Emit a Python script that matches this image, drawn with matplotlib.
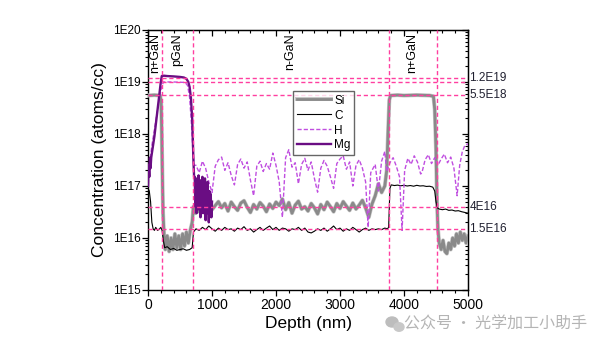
import matplotlib
matplotlib.use("Agg")
import math
import matplotlib.pyplot as plt
from matplotlib.ticker import FixedLocator, FuncFormatter, LogLocator, MultipleLocator, NullFormatter
from matplotlib.patches import Ellipse
import matplotlib.patheffects as pe

plt.rcParams['font.family'] = ['Liberation Sans', 'DejaVu Sans']

# SIMS depth profiles (depth in nm, concentration in atoms/cc)
si_depth = [0, 100, 190, 205, 215, 225, 235, 250,
            270, 300, 330, 360, 390, 420, 450, 480, 510, 540, 570, 600, 630, 660, 690, 710, 740, 770,
            800, 850, 900, 950, 1000, 1050, 1100, 1150, 1200, 1250, 1300, 1350, 1400, 1450, 1500,
            1550, 1600, 1650, 1700, 1750, 1800, 1850, 1900, 1950, 2000, 2050, 2100, 2150, 2200,
            2250, 2300, 2350, 2400, 2450, 2500, 2550, 2600, 2650, 2700, 2750, 2800, 2850, 2900,
            2950, 3000, 3050, 3100, 3150, 3200, 3250, 3300, 3350, 3400, 3450, 3500, 3550, 3600,
            3650, 3700, 3730, 3750, 3770, 3790, 3900, 4000, 4200, 4400, 4460, 4480, 4500, 4515,
            4530, 4550, 4580, 4610, 4640, 4670, 4700, 4730, 4760, 4790, 4820, 4850, 4880, 4910,
            4940, 4970, 5000]
si_conc = [5.5e18, 5.6e18, 5.5e18, 4e18, 1e18, 1.5e17, 3e16, 1.2e16,
           6e15, 1.1e16, 5.5e15, 1.0e16, 6e15, 1.2e16, 6.5e15, 1.1e16, 6e15, 1.2e16, 7e15, 1.3e16,
           8e15, 1.4e16, 2e16, 4e16, 3e16, 4.5e16,
           3.2e16, 4.5e16, 3.0e16, 4.8e16, 3.5e16, 4.2e16, 5.0e16, 3.8e16, 4.6e16, 3.3e16, 4.9e16,
           4.0e16, 3.4e16, 4.7e16, 5.2e16, 3.9e16, 3.1e16, 4.4e16, 3.6e16, 4.8e16, 4.1e16, 3.2e16,
           4.5e16, 3.7e16, 4.9e16, 4.2e16, 5.6e16, 3.5e16, 4.8e16, 3.0e16, 4.3e16, 5.1e16, 3.6e16,
           4.0e16, 3.3e16, 4.6e16, 3.8e16, 2.9e16, 4.4e16, 3.5e16, 4.9e16, 4.0e16, 3.2e16, 4.6e16,
           3.7e16, 5.0e16, 4.1e16, 3.4e16, 4.7e16, 3.6e16, 4.3e16, 5.3e16, 3.8e16, 2.5e16, 4.5e16,
           6.5e16, 1.1e17, 7.5e16, 1.0e17, 2e17, 1e18, 4.5e18, 5.5e18, 5.6e18, 5.5e18, 5.6e18,
           5.5e18, 5.3e18, 3e18, 5e17, 5e16, 1.5e16, 8e15, 6e15, 9e15, 5.5e15, 5e15, 8e15, 6e15,
           1.0e16, 7e15, 1.2e16, 8e15, 1.3e16, 9e15, 1.2e16, 8e15, 1.1e16]

c_depth = [0, 20, 40, 60, 80, 100, 120, 150, 180, 200, 220, 240, 260, 300, 350, 400, 450, 500,
           550, 600, 650, 690, 710, 750, 800, 850, 900, 950, 1000, 1050, 1100, 1150, 1200, 1250,
           1300, 1350, 1400, 1450, 1500, 1550, 1600, 1650, 1700, 1750, 1800, 1850, 1900, 1950,
           2000, 2050, 2100, 2150, 2200, 2250, 2300, 2350, 2400, 2450, 2500, 2550, 2600, 2650,
           2700, 2750, 2800, 2850, 2900, 2950, 3000, 3050, 3100, 3150, 3200, 3250, 3300, 3350,
           3400, 3450, 3500, 3550, 3600, 3650, 3700, 3740, 3760, 3780, 3800, 3850, 3900, 3950,
           4000, 4050, 4100, 4150, 4200, 4250, 4300, 4350, 4400, 4450, 4480, 4500, 4520, 4550,
           4600, 4650, 4700, 4750, 4800, 4850, 4900, 4950, 5000]
c_conc = [9e16, 8e16, 5e16, 2e16, 1.5e16, 1.4e16, 1.6e16, 1.4e16, 1.5e16, 1.6e16, 1.4e16, 9e15,
          6.5e15, 6.8e15, 6e15, 6.3e15, 5.8e15, 6e15, 6.2e15, 5.8e15, 6e15, 6.5e15, 1.3e16,
          1.5e16, 1.4e16, 1.6e16, 1.45e16, 1.7e16, 1.5e16, 1.35e16, 1.55e16, 1.4e16, 1.6e16,
          1.45e16, 1.5e16, 1.35e16, 1.55e16, 1.45e16, 1.65e16, 1.4e16, 1.5e16, 1.3e16, 1.45e16,
          1.6e16, 1.4e16, 1.55e16, 1.7e16, 1.45e16, 1.6e16, 1.4e16, 1.55e16, 1.5e16, 1.35e16,
          1.5e16, 1.45e16, 1.6e16, 1.4e16, 1.55e16, 1.3e16, 1.25e16, 1.35e16, 1.5e16, 1.4e16,
          1.55e16, 1.35e16, 1.5e16, 1.7e16, 1.45e16, 1.55e16, 1.35e16, 1.5e16, 1.4e16, 1.6e16,
          1.45e16, 1.3e16, 1.45e16, 1.55e16, 1.4e16, 1.5e16, 1.45e16, 1.5e16, 1.45e16, 1.55e16,
          1.5e16, 1.6e16, 9e16, 1.05e17, 1.02e17, 1.04e17, 1.01e17, 1.03e17, 1.0e17, 1.02e17,
          9.9e16, 1.03e17, 1.0e17, 1.01e17, 9.8e16, 9.9e16, 9.5e16, 8e16, 5e16, 3.8e16, 3.6e16,
          3.5e16, 3.6e16, 3.4e16, 3.45e16, 3.3e16, 3.35e16, 3.2e16, 3.1e16, 3.0e16]

h_depth = [0, 30, 60, 100, 150, 200, 240, 400, 580, 620, 650, 680, 700, 720,
           750, 800, 850, 900, 950, 1000, 1050, 1100, 1150, 1200, 1250, 1300, 1350, 1400, 1450,
           1500, 1550, 1600, 1650, 1700, 1750, 1800, 1850, 1900, 1950, 2000, 2050, 2100, 2150,
           2200, 2250, 2300, 2350, 2400, 2450, 2500, 2550, 2600, 2650, 2700, 2750, 2800, 2850,
           2900, 2950, 3000, 3050, 3100, 3150, 3200, 3250, 3300, 3350, 3400, 3440, 3480, 3550,
           3600, 3650, 3700, 3730, 3780, 3830, 3880, 3930, 3970, 4010, 4060, 4110, 4160, 4210,
           4260, 4280, 4330, 4380, 4430, 4480, 4530, 4580, 4630, 4680, 4730, 4780, 4830, 4870,
           4910, 4950, 5000]
h_conc = [2e17, 3e17, 6e17, 1.2e18, 3e18, 7e18, 1.0e19, 1.0e19, 9.8e18, 8.5e18, 5e18, 1.5e18,
          5e17, 2.5e17,
          2.5e17, 1.8e17, 3.0e17, 2.2e17, 1.2e17, 7.5e16, 2.4e17, 3.2e17, 3.6e17, 2.0e17, 2.8e17,
          1.6e17, 1.05e17, 2.6e17, 3.3e17, 2.2e17, 2.9e17, 1.3e17, 6.5e16, 2.4e17, 3.0e17,
          1.9e17, 2.7e17, 2.1e17, 4.3e17, 2.5e17, 1.2e17, 2.5e16, 3.5e17, 5.0e17, 2.3e17, 2.8e17,
          1.1e17, 2.6e17, 3.4e17, 2.0e17, 2.9e17, 1.4e17, 7.6e16, 2.2e17, 3.1e17, 2.4e17, 1.5e17,
          9e16, 2.7e17, 3.3e17, 3.8e17, 2.1e17, 2.9e17, 1.0e17, 2.5e17, 3.2e17, 2.2e17, 1.2e17,
          1.6e16, 1.8e17, 2.6e17, 8e16, 3.0e17, 4.6e17, 1.9e17, 2.8e17, 3.5e17, 2.4e17, 1.5e17,
          1.4e16, 2.0e17, 3.4e17, 2.6e17, 3.8e17, 2.9e17, 1.7e17, 1.8e17, 3.2e17, 4.0e17, 2.7e17,
          3.5e17, 2.5e17, 3.3e17, 4.1e17, 2.8e17, 3.6e17, 2.2e17, 6.5e16, 2.5e17, 4.5e17, 6.0e17,
          6.5e17]

mg_depth = [0, 10, 20, 30, 40, 50, 100, 150, 200, 215, 250, 300, 400, 500, 560, 600, 630, 650,
            670, 690, 700, 710, 720, 730, 740, 750, 760, 770, 780, 790, 800, 810, 820, 830, 840,
            850, 860, 870, 880, 890, 900, 910, 920, 930, 940, 950, 960, 970, 980, 990, 1000]
mg_conc = [1e17, 2.5e17, 1.5e17, 3.5e17, 2.2e17, 3.5e17, 9e17, 3e18, 1.0e19, 1.3e19, 1.32e19,
           1.3e19, 1.28e19, 1.25e19, 1.22e19, 1.15e19, 1.0e19, 8e18, 5e18, 2e18, 8e17, 3e17,
           1.5e17, 1.5e17, 4e16, 1.4e17, 3e16, 1.2e17, 5e16, 1.6e17, 3.5e16, 1.1e17, 2.5e16,
           1.3e17, 4e16, 1.5e17, 3e16, 1.0e17, 6e16, 1.4e17, 2.2e16, 9e16, 3e16, 1.2e17, 5e16,
           2e16, 8e16, 3e16, 7e16, 2.5e16, 5e16]

# reference levels and layer boundaries
h_levels = [1.2e19, 1.0e19, 5.5e18, 4e16, 1.5e16]
level_labels = {1.2e19: '1.2E19', 5.5e18: '5.5E18', 4e16: '4E16', 1.5e16: '1.5E16'}
boundaries = [215, 710, 3765, 4510]
layers = [(110, 'n+GaN'), (450, 'pGaN'), (2220, 'n-GaN'), (4135, 'n+GaN')]

pink = '#ff3fa0'

fig = plt.figure(figsize=(5.99, 3.47), dpi=100)
ax = fig.add_axes([0.2471, 0.1643, 0.5342, 0.7493])

ax.plot(si_depth, si_conc, color='#8a8a8a', lw=2.0, label='Si', zorder=3,
        path_effects=[pe.Stroke(linewidth=2.9, foreground='#c8c8c8'), pe.Normal()])
ax.plot(c_depth, c_conc, color='black', lw=0.8, label='C', zorder=4)
ax.plot(h_depth, h_conc, color='#c04ee0', lw=1.0, ls=(0, (3, 1.5)), label='H', zorder=4)
ax.plot(mg_depth, mg_conc, color='#6a0d83', lw=1.7, label='Mg', zorder=5)

for lv in h_levels:
    ax.axhline(lv, color=pink, lw=1.0, ls=(0, (3, 2)), zorder=6)
for b in boundaries:
    ax.axvline(b, color=pink, lw=1.0, ls=(0, (3, 2)), zorder=6)

ytr = ax.get_yaxis_transform()
for lv, txt in level_labels.items():
    ax.text(1.004, lv, txt, transform=ytr, va='center', ha='left', fontsize=8.5,
            color='#202030', clip_on=False)

xtr = ax.get_xaxis_transform()
for d, txt in layers:
    ax.text(d, 0.988, txt, transform=xtr, rotation=90, va='top', ha='center', fontsize=9)

ax.set_yscale('log')
ax.set_xlim(0, 5000)
ax.set_ylim(1e15, 1e20)
ax.xaxis.set_major_locator(MultipleLocator(1000))
ax.xaxis.set_minor_locator(MultipleLocator(200))
ax.yaxis.set_major_locator(FixedLocator([1e15, 1e16, 1e17, 1e18, 1e19, 1e20]))
ax.yaxis.set_major_formatter(FuncFormatter(lambda v, p: '1E%d' % round(math.log10(v))))
ax.yaxis.set_minor_locator(LogLocator(base=10, subs=range(2, 10), numticks=20))
ax.yaxis.set_minor_formatter(NullFormatter())
ax.tick_params(axis='both', which='major', direction='out', length=4, width=0.9)
ax.tick_params(axis='both', which='minor', direction='out', length=2, width=0.8)
ax.tick_params(axis='x', labelsize=10, pad=2)
ax.tick_params(axis='y', labelsize=8.5, pad=1.5)

# mirrored inward ticks on top and right
top = ax.secondary_xaxis('top')
top.xaxis.set_major_locator(MultipleLocator(1000))
top.xaxis.set_minor_locator(MultipleLocator(200))
top.tick_params(which='major', direction='in', length=4, width=0.9, labeltop=False)
top.tick_params(which='minor', direction='in', length=2, width=0.8)
right = ax.secondary_yaxis('right')
right.yaxis.set_major_locator(FixedLocator([1e15, 1e16, 1e17, 1e18, 1e19, 1e20]))
right.yaxis.set_minor_locator(LogLocator(base=10, subs=range(2, 10), numticks=20))
right.yaxis.set_minor_formatter(NullFormatter())
right.tick_params(which='major', direction='in', length=4, width=0.9, labelright=False)
right.tick_params(which='minor', direction='in', length=2, width=0.8)

for sp in ax.spines.values():
    sp.set_linewidth(1.0)

ax.set_xlabel('Depth (nm)', fontsize=12.5, labelpad=3)
ax.set_ylabel('Concentration (atoms/cc)', fontsize=12.5, labelpad=4)

leg = ax.legend(loc='upper left', bbox_to_anchor=(0.453, 0.765), fontsize=8.5, frameon=True,
                fancybox=False, edgecolor='#404040', handlelength=2.9, handletextpad=0.3,
                labelspacing=0.25, borderpad=0.3, borderaxespad=0)
leg.get_frame().set_linewidth(1.0)
leg.set_zorder(10)

# watermark
fig.text(0.675, 0.066, '公众号 · 光学加工小助手', fontsize=11.5, color='#b4b4b4', va='center',
         ha='left', family=['Noto Sans CJK SC', 'DejaVu Sans'])
fig.patches.append(Ellipse((392 / 599, 1 - 322 / 347), 12 / 599, 10 / 347,
                           transform=fig.transFigure, color='#bdbdbd'))
fig.patches.append(Ellipse((399 / 599, 1 - 327 / 347), 10 / 599, 8.5 / 347,
                           transform=fig.transFigure, color='#c8c8c8'))

fig.savefig('out.png', dpi=100)
